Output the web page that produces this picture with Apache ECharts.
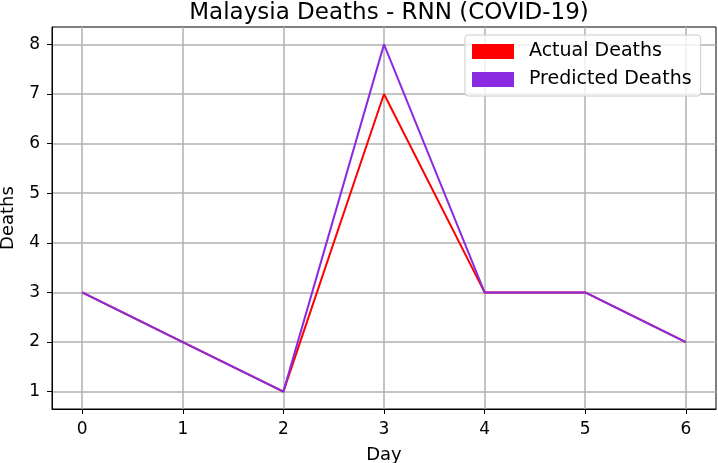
<html>
<head>
    <meta charset="utf-8">
    <script src="https://cdn.jsdelivr.net/npm/echarts@6/dist/echarts.min.js"></script>
</head>
<body style="margin:0">
<div id="main" style="width: 718px;height:463px;"></div>
<script>
    // data
    var days = [0, 1, 2, 3, 4, 5, 6];
    var actualDeaths = [3, 2, 1, 7, 3, 3, 2];
    var predictedDeaths = [3, 2, 1, 8, 3, 3, 2];
    var yTicks = [1, 2, 3, 4, 5, 6, 7, 8];

    var font = 'DejaVu Sans';
    function pairs(vals) {
        return days.map(function (d, i) { return [d, vals[i]]; });
    }

    var myChart = echarts.init(document.getElementById('main'));
    var option = {
        animation: false,
        backgroundColor: '#fff',
        title: {
            text: 'Malaysia Deaths - RNN (COVID-19)',
            left: 384,
            textAlign: 'center',
            top: -3,
            textStyle: {fontFamily: font, fontSize: 23, fontWeight: 'normal', color: '#000'}
        },
        grid: {
            left: 52, right: 2, top: 27, bottom: 54,
            outerBoundsMode: 'none',
            containLabel: false,
            show: true, borderColor: '#000', borderWidth: 1
        },
        legend: {
            orient: 'vertical',
            left: 465,
            top: 35,
            padding: [7, 9, 7, 7],
            itemGap: 9,
            itemWidth: 42,
            itemHeight: 15,
            icon: 'rect',
            backgroundColor: 'rgba(255,255,255,0.8)',
            borderColor: '#ccc',
            borderWidth: 1,
            borderRadius: 3,
            textStyle: {fontFamily: font, fontSize: 19, color: '#000', padding: [0, 0, 0, 10]},
            data: ['Actual Deaths', 'Predicted Deaths']
        },
        xAxis: {
            type: 'value',
            min: -0.3,
            max: 6.3,
            name: 'Day',
            nameLocation: 'middle',
            nameGap: 37,
            nameTextStyle: {fontFamily: font, fontSize: 18, color: '#000'},
            axisLine: {show: true, onZero: false, lineStyle: {color: '#000'}},
            axisTick: {show: true, inside: false, length: 5, customValues: days, lineStyle: {color: '#000'}},
            axisLabel: {customValues: days, margin: 12, fontFamily: font, fontSize: 17, color: '#000'},
            splitLine: {show: true, lineStyle: {color: '#b0b0b0', width: 1.5}}
        },
        yAxis: {
            type: 'value',
            min: 0.65,
            max: 8.35,
            name: 'Deaths',
            nameLocation: 'middle',
            nameGap: 35,
            nameTextStyle: {fontFamily: font, fontSize: 18, color: '#000'},
            axisLine: {show: true, onZero: false, lineStyle: {color: '#000'}},
            axisTick: {show: true, inside: false, length: 5, customValues: yTicks, lineStyle: {color: '#000'}},
            axisLabel: {customValues: yTicks, margin: 12, fontFamily: font, fontSize: 17, color: '#000'},
            splitLine: {show: true, lineStyle: {color: '#b0b0b0', width: 1.5}}
        },
        series: [
            {
                name: 'Actual Deaths',
                type: 'line',
                data: pairs(actualDeaths),
                showSymbol: false,
                symbol: 'none',
                itemStyle: {color: '#ff0000'},
                lineStyle: {color: '#ff0000', width: 2}
            },
            {
                name: 'Predicted Deaths',
                type: 'line',
                data: pairs(predictedDeaths),
                showSymbol: false,
                symbol: 'none',
                itemStyle: {color: '#8a2be2'},
                lineStyle: {color: '#8a2be2', width: 2}
            }
        ]
    };
    myChart.setOption(option);
</script>
</body>
</html>
